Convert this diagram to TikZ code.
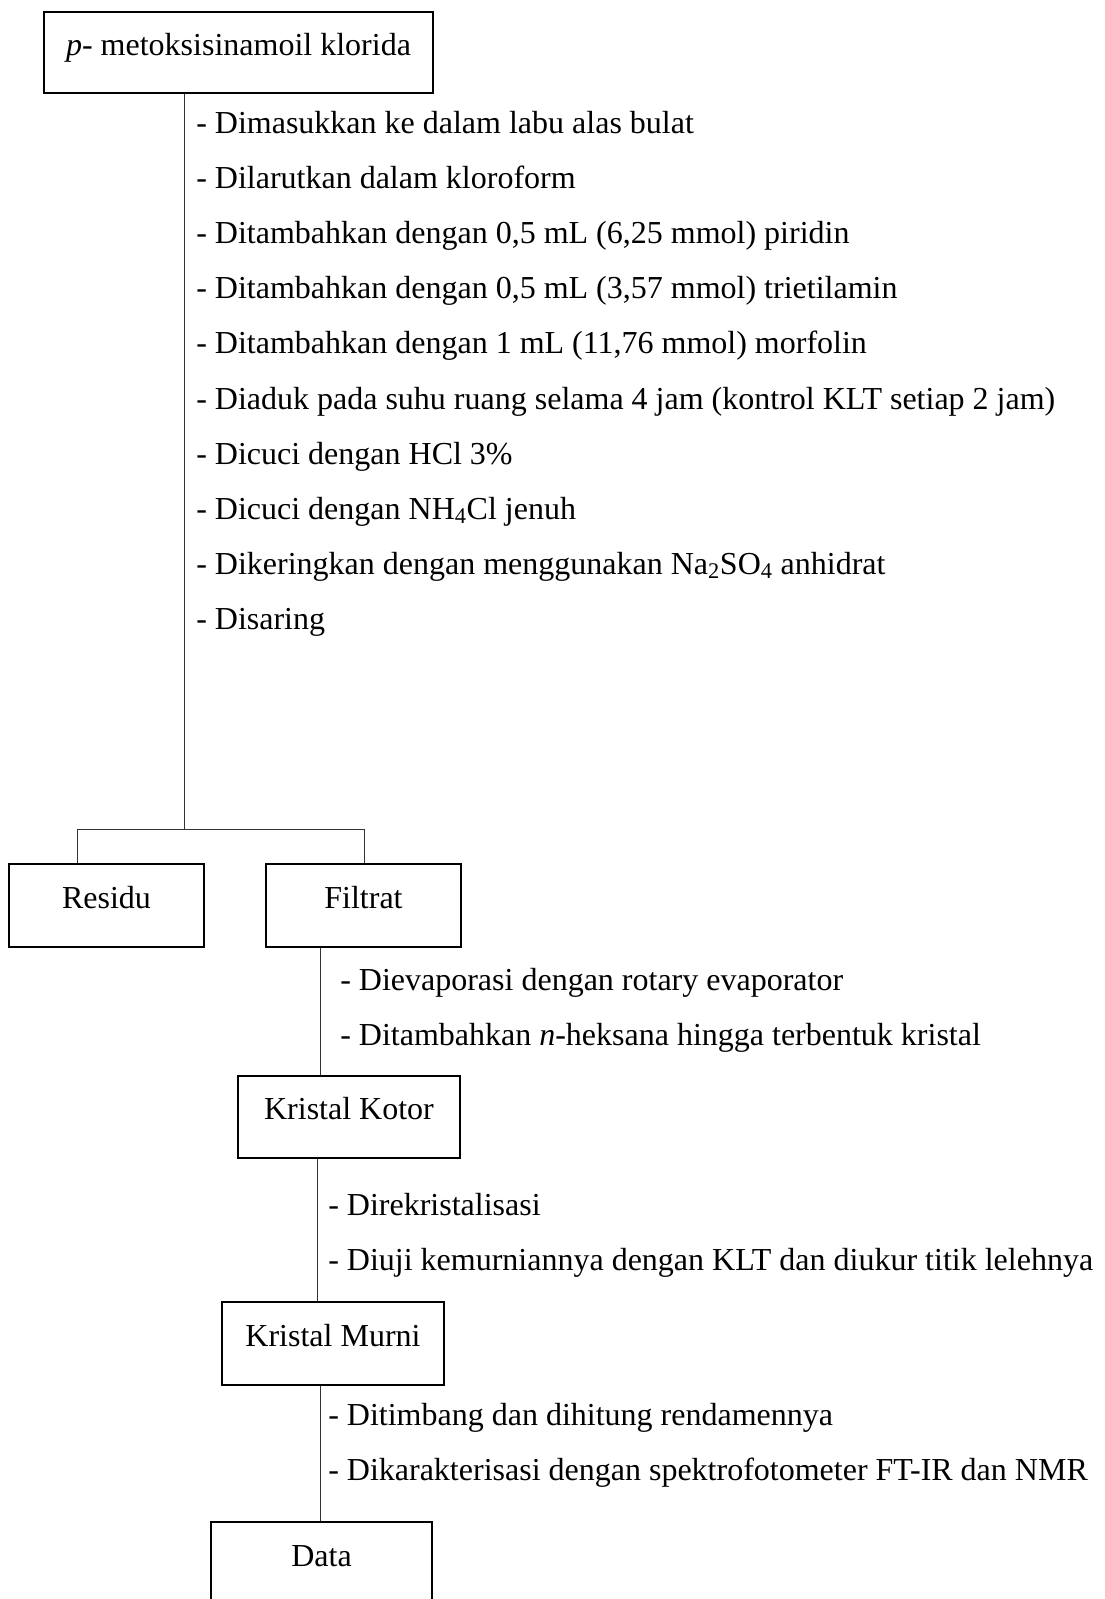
\documentclass[tikz,border=0pt]{standalone}
\usepackage{fontspec}
\setmainfont{Liberation Serif}
\begin{document}
\begin{tikzpicture}[x=0.75pt,y=-0.75pt,
  every node/.style={font=\fontsize{24}{29}\selectfont},
  box/.style={draw=black,line width=1.3pt,inner sep=0pt,
    text height=15pt,text depth=11.25pt},
  link/.style={draw=black!80,line width=0.7pt},
  stepline/.style={anchor=base west,inner sep=0pt}]
\clip (0,0) rectangle (1105,1599);
\fill[white] (0,0) rectangle (1105,1599);

% boxes
\node[box,minimum width=389*0.75pt,minimum height=81*0.75pt] (start) at (238.5,52.5) {\textit{p}- metoksisinamoil klorida};
\node[box,minimum width=195*0.75pt,minimum height=83*0.75pt] (residu) at (106.5,905.5) {Residu};
\node[box,minimum width=195*0.75pt,minimum height=83*0.75pt] (filtrat) at (363.5,905.5) {Filtrat};
\node[box,minimum width=222*0.75pt,minimum height=82*0.75pt] (kotor) at (349,1117) {Kristal Kotor};
\node[box,minimum width=222*0.75pt,minimum height=83*0.75pt] (murni) at (333,1343.5) {Kristal Murni};
\node[box,minimum width=221*0.75pt,minimum height=83*0.75pt] (data) at (321.5,1563.5) {Data};

% connectors
\coordinate (split) at (184,829);
\coordinate (left) at (77,829);
\coordinate (right) at (364,829);
\coordinate (a) at (320,0);
\coordinate (b) at (317,0);
\coordinate (c) at (320,0);
\draw[link] (start.south -| split) -- (split);
\draw[link] (left) -- (right);
\draw[link] (left) -- (residu.north -| left);
\draw[link] (right) -- (filtrat.north -| right);
\draw[link] (filtrat.south -| a) -- (kotor.north -| a);
\draw[link] (kotor.south -| b) -- (murni.north -| b);
\draw[link] (murni.south -| c) -- (data.north -| c);

% steps after the starting material
\node[stepline] (s1) at (196,133) {- Dimasukkan ke dalam labu alas bulat};
\node[stepline] (s2) at (196,188) {- Dilarutkan dalam kloroform};
\node[stepline] (s3) at (196,243) {- Ditambahkan dengan 0,5 mL (6,25 mmol) piridin};
\node[stepline] (s4) at (196,298) {- Ditambahkan dengan 0,5 mL (3,57 mmol) trietilamin};
\node[stepline] (s5) at (196,353) {- Ditambahkan dengan 1 mL (11,76 mmol) morfolin};
\node[stepline] (s6) at (196,409) {- Diaduk pada suhu ruang selama 4 jam (kontrol KLT setiap 2 jam)};
\node[stepline] (s7) at (196,464) {- Dicuci dengan HCl 3\%};
\node[stepline] (s8) at (196,519) {- Dicuci dengan NH\textsubscript{4}Cl jenuh};
\node[stepline] (s9) at (196,574) {- Dikeringkan dengan menggunakan Na\textsubscript{2}SO\textsubscript{4} anhidrat};
\node[stepline] (s10) at (196,629) {- Disaring};

% steps after the filtrate
\node[stepline] (f1) at (340,990) {- Dievaporasi dengan rotary evaporator};
\node[stepline] (f2) at (340,1045) {- Ditambahkan \textit{n}-heksana hingga terbentuk kristal};

% steps after the crude crystals
\node[stepline] (k1) at (328,1215) {- Direkristalisasi};
\node[stepline] (k2) at (328,1270) {- Diuji kemurniannya dengan KLT dan diukur titik lelehnya};

% steps after the pure crystals
\node[stepline] (m1) at (328,1425) {- Ditimbang dan dihitung rendamennya};
\node[stepline] (m2) at (328,1480) {- Dikarakterisasi dengan spektrofotometer FT-IR dan NMR};
\end{tikzpicture}
\end{document}
